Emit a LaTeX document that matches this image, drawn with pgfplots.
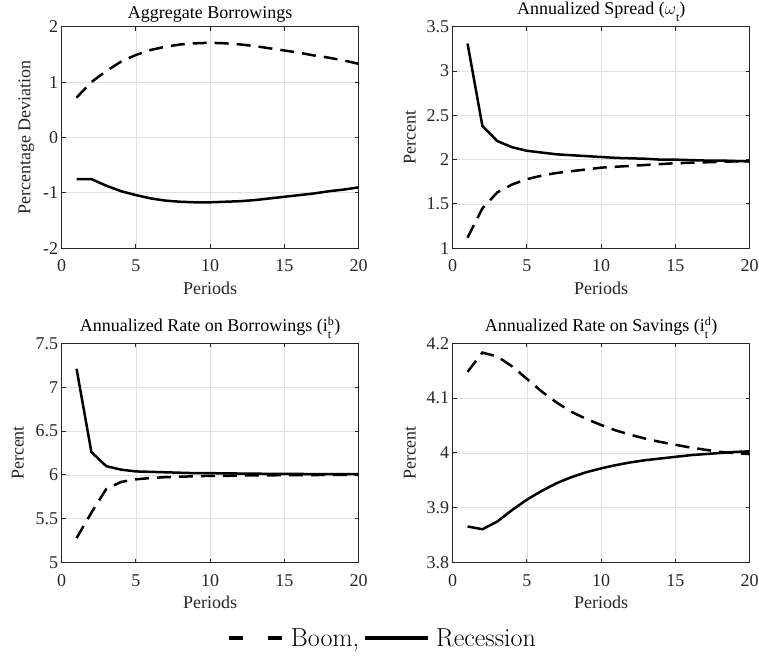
\documentclass[border=0pt]{standalone}
\usepackage{fontspec}
\setmainfont{Liberation Serif}
\newfontfamily\lmfont{Latin Modern Roman}
\usepackage{pgfplots}
\pgfplotsset{compat=1.18}

\newcommand{\scr}{\fontsize{12bp}{12bp}\selectfont}
\newcommand{\subt}{\raisebox{-7bp}{\scr t}}
\newcommand{\supsub}[1]{\rlap{\raisebox{6.5bp}{\scr #1}}\makebox[6.5bp][l]{\raisebox{-7bp}{\scr t}}}

\pgfplotsset{
 mystyle/.style={
  scale only axis, width=297bp,
  xmin=0, xmax=20, xtick={0,5,10,15,20},
  grid=major, major grid style={line width=0.8bp, color=black!12},
  axis line style={line width=1.2bp, color=black!85},
  tick style={line width=1bp, color=black!85},
  tick align=inside, major tick length=4bp,
  font=\fontsize{18bp}{21bp}\selectfont,
  tick label style={font=\fontsize{18bp}{21bp}\selectfont, text=black!85},
  xticklabel style={yshift=-8bp},
  label style={font=\fontsize{18bp}{21bp}\selectfont, text=black!85},
  xlabel shift=3bp,
  title style={font=\fontsize{18bp}{21bp}\selectfont, inner sep=0pt, yshift=-1.5bp},
  /pgf/number format/assume math mode=true,
  xlabel={Periods},
  anchor=south west,
 },
 boom/.style={black, line width=2.5bp, dash pattern=on 14bp off 8bp},
 rec/.style={black, line width=2.5bp},
}

\begin{document}
\begin{tikzpicture}
\useasboundingbox (0,0) rectangle (759bp,657bp);

% Top-left
\begin{axis}[mystyle, at={(61.7bp,408.7bp)}, height=221.6bp,
  ymin=-2, ymax=2, ytick={-2,-1,0,1,2}, ylabel shift=2bp,
  title={Aggregate Borrowings}, ylabel={Percentage Deviation}]
\addplot[boom] coordinates {(1,0.72)(2,1.00)(3,1.20)(4,1.37)(5,1.49)(6,1.58)(7,1.64)(8,1.68)(9,1.70)(10,1.71)(11,1.70)(12,1.68)(13,1.65)(14,1.61)(15,1.57)(16,1.53)(17,1.48)(18,1.44)(19,1.39)(20,1.33)};
\addplot[rec] coordinates {(1,-0.75)(2,-0.75)(3,-0.87)(4,-0.97)(5,-1.04)(6,-1.10)(7,-1.14)(8,-1.16)(9,-1.17)(10,-1.17)(11,-1.16)(12,-1.15)(13,-1.13)(14,-1.10)(15,-1.07)(16,-1.04)(17,-1.01)(18,-0.97)(19,-0.94)(20,-0.90)};
\end{axis}

% Top-right
\begin{axis}[mystyle, at={(452.7bp,408.7bp)}, height=221.6bp,
  ymin=1, ymax=3.5, ytick={1,1.5,2,2.5,3,3.5}, ylabel shift=4bp,
  title={Annualized Spread ($\omega$\subt)}, ylabel={Percent}]
\addplot[boom] coordinates {(1,1.12)(2,1.45)(3,1.63)(4,1.72)(5,1.78)(6,1.82)(7,1.85)(8,1.87)(9,1.89)(10,1.91)(11,1.92)(12,1.93)(13,1.94)(14,1.95)(15,1.96)(16,1.965)(17,1.97)(18,1.975)(19,1.98)(20,1.98)};
\addplot[rec] coordinates {(1,3.31)(2,2.38)(3,2.21)(4,2.14)(5,2.10)(6,2.08)(7,2.06)(8,2.05)(9,2.04)(10,2.03)(11,2.02)(12,2.015)(13,2.01)(14,2.0)(15,2.0)(16,1.995)(17,1.99)(18,1.99)(19,1.985)(20,1.98)};
\end{axis}

% Bottom-left
\begin{axis}[mystyle, at={(61.7bp,94.3bp)}, height=219.4bp,
  ymin=5, ymax=7.5, ytick={5,5.5,6,6.5,7,7.5}, ylabel shift=5bp,
  title={Annualized Rate on Borrowings (i\supsub{b})}, ylabel={Percent}]
\addplot[boom] coordinates {(1,5.28)(2,5.57)(3,5.84)(4,5.92)(5,5.95)(6,5.965)(7,5.975)(8,5.98)(9,5.985)(10,5.99)(11,5.99)(12,5.993)(13,5.995)(14,5.996)(15,5.997)(16,5.998)(17,5.999)(18,6.0)(19,6.0)(20,6.0)};
\addplot[rec] coordinates {(1,7.21)(2,6.26)(3,6.10)(4,6.06)(5,6.04)(6,6.035)(7,6.03)(8,6.025)(9,6.02)(10,6.02)(11,6.018)(12,6.016)(13,6.014)(14,6.013)(15,6.012)(16,6.011)(17,6.01)(18,6.01)(19,6.01)(20,6.01)};
\end{axis}

% Bottom-right
\begin{axis}[mystyle, at={(452.7bp,94.3bp)}, height=219.4bp,
  ymin=3.8, ymax=4.2, ytick={3.8,3.9,4,4.1,4.2}, ylabel shift=4bp,
  title={Annualized Rate on Savings (i\supsub{d})}, ylabel={Percent},
  legend style={at={(-0.2367,-0.345)}, anchor=center, draw=none, fill=none,
    font=\lmfont\fontsize{26bp}{30bp}\selectfont, legend columns=-1,
    /tikz/every odd column/.append style={column sep=4bp},
    /tikz/every even column/.append style={column sep=2bp}},
  ]
\addlegendimage{legend image code/.code={\draw[black, line width=4bp, dash pattern=on 14bp off 25bp] (0bp,0bp) -- (54bp,0bp);}}
\addlegendentry{Boom,}
\addlegendimage{legend image code/.code={\draw[black, line width=4bp] (0bp,0bp) -- (63bp,0bp);}}
\addlegendentry{Recession}
\addplot[boom, forget plot] coordinates {(1,4.148)(2,4.183)(3,4.176)(4,4.158)(5,4.135)(6,4.112)(7,4.092)(8,4.075)(9,4.062)(10,4.051)(11,4.041)(12,4.033)(13,4.026)(14,4.020)(15,4.015)(16,4.010)(17,4.006)(18,4.002)(19,4.000)(20,3.998)};
\addplot[rec, forget plot] coordinates {(1,3.866)(2,3.861)(3,3.875)(4,3.896)(5,3.915)(6,3.931)(7,3.945)(8,3.956)(9,3.965)(10,3.972)(11,3.978)(12,3.983)(13,3.987)(14,3.990)(15,3.993)(16,3.996)(17,3.998)(18,4.000)(19,4.002)(20,4.003)};
\end{axis}
\end{tikzpicture}
\end{document}
